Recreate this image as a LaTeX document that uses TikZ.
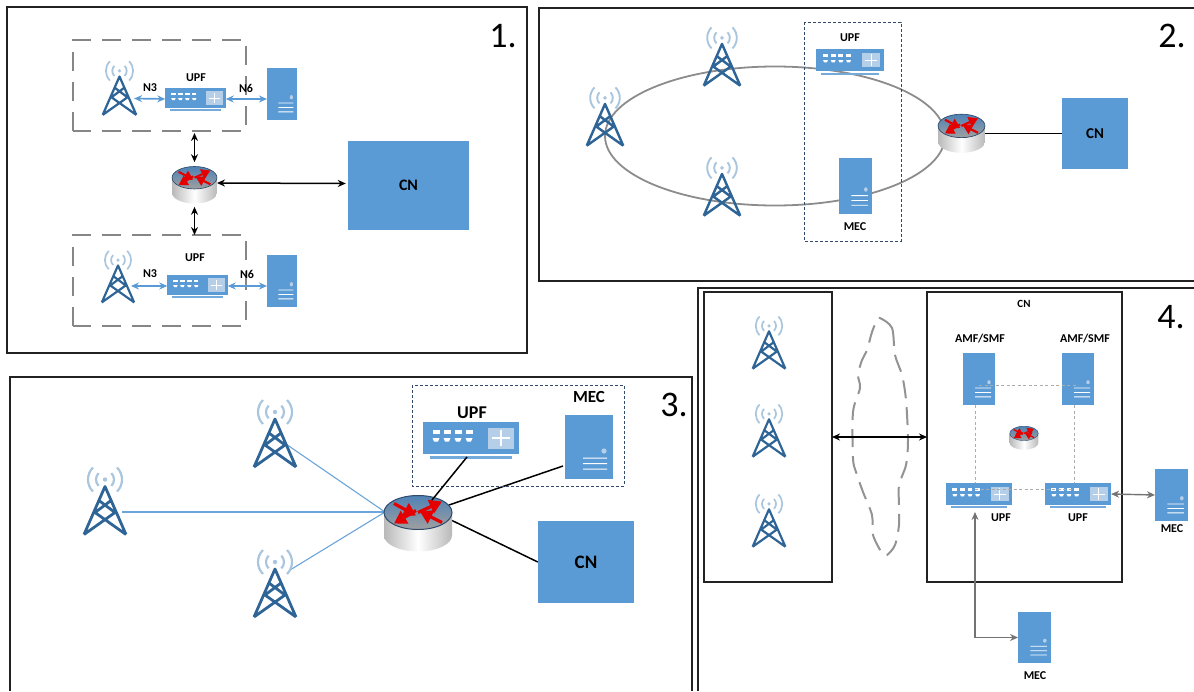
\documentclass[tikz,border=0pt]{standalone}
\usepackage{fontspec}
\setmainfont{Carlito}
\usetikzlibrary{arrows.meta,shapes.geometric,calc}
\pgfdeclarelayer{bg}
\pgfsetlayers{bg,main}
\definecolor{iconblue}{HTML}{5B9BD5}
\definecolor{towerblue}{HTML}{2E6496}
\definecolor{wave}{HTML}{A9C6DE}
\definecolor{lightsq}{HTML}{B5CFE8}
\definecolor{navy}{HTML}{2F4A6B}
\definecolor{panelline}{HTML}{222222}
\tikzset{
  iconbox/.style={inner sep=0pt,outer sep=0pt,draw=none,fill=none},
  panel/.style={draw=panelline,line width=2pt},
  graydash/.style={draw=gray!95,line width=2.6pt,dash pattern=on 19pt off 11pt},
  bluedot/.style={draw=navy,line width=.9pt,dash pattern=on 3pt off 2pt},
  cnbox/.style={draw=none,fill=iconblue,inner sep=0pt,font=\bfseries},
  lab/.style={font=\bfseries,text=black,inner sep=0pt},
  num/.style={font=\fontsize{36}{36}\selectfont,text=black,inner sep=0pt},
  blackarrow/.style={draw=black,line width=1.5pt,{Stealth[length=8pt,width=7pt]}-{Stealth[length=8pt,width=7pt]}},
  bluearrow/.style={draw=iconblue,line width=1.7pt,{Stealth[length=8pt,width=7pt]}-{Stealth[length=8pt,width=7pt]}},
  grayarrow/.style={draw=gray!90!black,line width=1.4pt,{Stealth[length=8pt,width=7pt]}-{Stealth[length=8pt,width=7pt]}},
  blackline/.style={draw=black,line width=1.5pt},
  towerlink/.style={draw=iconblue!90,line width=1.1pt},
  mesh/.style={draw=gray!65,line width=1pt,dash pattern=on 3pt off 2.5pt},
}
% tower: name, cx, cy, scale
\newcommand\towerI[4]{%
  \node[iconbox,minimum width=#4*44pt,minimum height=#4*69pt] (#1) at (#2,#3) {};
  \begin{scope}[shift={(#2,#3)},scale=#4]
    \draw[towerblue,line width=#4*2.8pt,line join=round]
      (-21,33) -- (0,-15) -- (21,33)
      (-21,33) -- (10,11) -- (-6,-1)
      (21,33) -- (-10,11) -- (6,-1);
    \fill[wave] (0,-22) circle (2.2);
    \draw[wave,line width=#4*2.2pt]
      (0,-22) ++(135:9) arc[start angle=135,end angle=225,radius=9]
      (0,-22) ++(45:9) arc[start angle=45,end angle=-45,radius=9]
      (0,-22) ++(135:17) arc[start angle=135,end angle=225,radius=17]
      (0,-22) ++(45:17) arc[start angle=45,end angle=-45,radius=17];
  \end{scope}}
% upf: name, cx, cy, scale
\newcommand\upfI[4]{%
  \node[iconbox,minimum width=#4*96pt,minimum height=#4*32pt] (#1) at (#2,#3) {};
  \begin{scope}[shift={(#2,#3)},scale=#4]
    \fill[iconblue] (-48,-16) rectangle (48,16);
    \fill[iconblue!85] (-41,18) rectangle (41,21);
    \foreach \px in {-35,-24,-13,-2}{
      \fill[white] (\px-3.5,-8) rectangle (\px+3.5,-4.5);
      \fill[white] (\px-3.5,0) -- (\px+3.5,0) -- (\px+2,3.5) -- (\px-2,3.5) -- cycle;
    }
    \fill[lightsq] (17,-10.5) rectangle (43,10.5);
    \draw[white,line width=#4*1.2pt] (21,0) -- (39,0) (30,-8) -- (30,8);
  \end{scope}}
% server: name, cx, cy, width, height
\newcommand\srvI[5]{%
  \node[iconbox,minimum width=#4 pt,minimum height=#5 pt] (#1) at (#2,#3) {};
  \begin{scope}[shift={(#2,#3)},xscale=#4/48,yscale=#5/64]
    \fill[iconblue] (-24,-32) rectangle (24,32);
    \fill[lightsq] (15,4) circle (2.6);
    \fill[white] (-6,10.5) rectangle (18,11.5) (-6,16) rectangle (18,17) (-6,21.5) rectangle (18,22.5);
  \end{scope}}
% router: name, cx, cy, scale
\newcommand\rtrI[4]{%
  \node[iconbox,minimum width=#4*68pt,minimum height=#4*57pt] (#1) at (#2,#3) {};
  \begin{scope}[shift={(#2,#3)},scale=#4]
    \shade[left color=gray!55,right color=gray!55,middle color=white]
      (-34,-11) -- (-34,12) arc[start angle=180,end angle=0,x radius=34,y radius=16] -- (34,-11) -- cycle;
    \shade[top color=iconblue!70!navy,bottom color=gray!75,draw=navy,line width=#4*1pt]
      (0,-11) ellipse[x radius=34,y radius=17];
    \begin{scope}[line width=#4*3.2pt,red!90!black,arrows={-{Triangle[]}}]
      \draw (-24,-20) -- (-2,-8);
      \draw (24,-1) -- (2,-12);
      \draw (0,-11) -- (24,-22);
      \draw (-2,-13) -- (-24,0);
    \end{scope}
  \end{scope}}
\begin{document}
\begin{tikzpicture}[x=1pt,y=-1pt]
\useasboundingbox (0,0) rectangle (1194,691);
% panels
\draw[panel] (7,7) rectangle (527,353);
\draw[panel] (1194,8) -- (539,8) -- (539,281) -- (1194,281);
\draw[panel] (10,691) -- (10,377) -- (692,377) -- (692,691);
\draw[panel] (698,691) -- (698,288) -- (1194,288);
\draw[panel] (704,292) rectangle (832,582);
\draw[panel] (927,292) rectangle (1122,582);
\node[iconbox,minimum width=128pt,minimum height=290pt] (leftbox) at (768,437) {};
\node[iconbox,minimum width=195pt,minimum height=290pt] (rightbox) at (1024.5,437) {};
% numbers
\node[num] at (503,36) {1.};
\node[num] at (1172,36) {2.};
\node[num] at (674,405) {3.};
\node[num] at (1171,317) {4.};
% ---- panel 1
\draw[graydash] (73,131) -- (73,40) -- (246,40) -- (246,131) -- cycle;
\draw[graydash] (73,326) -- (73,235) -- (246,235) -- (246,326) -- cycle;
\towerI{t1a}{119.5}{88.5}{.8}
\upfI{u1a}{195.5}{98}{.63}
\srvI{s1a}{282}{94}{30}{52}
\towerI{t1b}{118}{277}{.77}
\upfI{u1b}{197.5}{285}{.63}
\srvI{s1b}{282}{281}{30}{52}
\rtrI{r1}{194.5}{185}{.66}
\node[cnbox,minimum width=121pt,minimum height=89pt,font=\bfseries\fontsize{16}{16}\selectfont] (cn1) at (408.5,185.5) {CN};
\node[iconbox,minimum width=173pt,minimum height=91pt] (b1a) at (159.5,85.5) {};
\node[iconbox,minimum width=173pt,minimum height=91pt] (b1b) at (159.5,280.5) {};
\draw[bluearrow] ([shift={(-3,10)}]t1a.east) -- ([shift={(0,1)}]u1a.west);
\draw[bluearrow] ([shift={(0,1)}]u1a.east) -- ([shift={(0,5)}]s1a.west);
\draw[bluearrow] ([shift={(-4,9)}]t1b.east) -- ([shift={(0,1)}]u1b.west);
\draw[bluearrow] ([shift={(0,1)}]u1b.east) -- ([shift={(0,5)}]s1b.west);
\draw[blackarrow] ([shift={(35,2)}]b1a.south) -- ([shift={(0,-4)}]r1.north);
\draw[blackarrow] ([shift={(0,3)}]r1.south) -- ([shift={(35,0)}]b1b.north);
\draw[blackarrow] ([shift={(0,-2)}]r1.east) -- ([shift={(-2,-2)}]cn1.west);
\node[lab,font=\bfseries\fontsize{12}{12}\selectfont] at (150,88) {N3};
\node[lab,font=\bfseries\fontsize{12}{12}\selectfont] at (196,78) {UPF};
\node[lab,font=\bfseries\fontsize{12}{12}\selectfont] at (246,88) {N6};
\node[lab,font=\bfseries\fontsize{12}{12}\selectfont] at (150,274) {N3};
\node[lab,font=\bfseries\fontsize{12}{12}\selectfont] at (195,258) {UPF};
\node[lab,font=\bfseries\fontsize{12}{12}\selectfont] at (247,274) {N6};
% ---- panel 2
\node[iconbox,draw=gray!90,line width=1.8pt,ellipse,minimum width=340pt,minimum height=139pt] (ring2) at (775,136) {};
\draw[bluedot] (804,22) rectangle (901,241);
\towerI{t2a}{722}{57}{.87}
\towerI{t2b}{605}{117}{.87}
\towerI{t2c}{722}{187}{.87}
\upfI{u2}{850}{60}{.7}
\srvI{s2}{855.5}{186}{33}{56}
\rtrI{r2}{961.5}{133.5}{.69}
\node[cnbox,minimum width=66pt,minimum height=71pt,font=\bfseries\fontsize{15}{15}\selectfont] (cn2) at (1095,133.5) {CN};
\begin{pgfonlayer}{bg}
\draw[blackline] (r2.east) -- (cn2.west);
\end{pgfonlayer}
\node[lab,font=\bfseries\fontsize{12}{12}\selectfont] at (850,38) {UPF};
\node[lab,font=\bfseries\fontsize{12}{12}\selectfont] at (855,227) {MEC};
% ---- panel 3
\draw[bluedot] (412,385) rectangle (624,486);
\towerI{t3a}{275}{434}{1}
\towerI{t3b}{105}{501.5}{1}
\towerI{t3c}{275}{584}{1}
\upfI{u3}{471}{438}{1}
\srvI{s3}{589}{447}{48}{64}
\rtrI{r3}{418}{523.5}{1}
\node[cnbox,minimum width=96pt,minimum height=82pt,font=\bfseries\fontsize{19}{19}\selectfont] (cn3) at (586,562) {CN};
\begin{pgfonlayer}{bg}
\draw[towerlink] ([shift={(-14,8)}]t3a.east) -- ([shift={(1,-11.5)}]r3.west);
\draw[towerlink] ([shift={(-5,10.5)}]t3b.east) -- ([shift={(1,-11.5)}]r3.west);
\draw[towerlink] ([shift={(-7,-14)}]t3c.east) -- ([shift={(1,-11.5)}]r3.west);
\draw[blackline] ([shift={(-2,19)}]s3.west) -- ([shift={(-3,-18.5)}]r3.east);
\draw[blackline] ([shift={(0,-3)}]r3.east) -- (cn3.west);
\end{pgfonlayer}
\draw[blackline] ([shift={(-4,3)}]u3.south) -- ([shift={(14,5)}]r3.north);
\node[lab,font=\bfseries\fontsize{18}{18}\selectfont] at (472,413) {UPF};
\node[lab,font=\bfseries\fontsize{17}{17}\selectfont] at (589,397) {MEC};
% ---- panel 4
\draw[gray!85,line width=2pt,dash pattern=on 18pt off 9pt] plot[smooth cycle,tension=.5] coordinates
  {(880,318) (892,328) (895,355) (902,375) (906,400) (908,440) (906,465) (899,485) (899,505) (899,525) (895,545) (887,555) (882,553) (873,535) (872,515) (863,492) (856,472) (853,458) (853,412) (860,388) (858,375) (862,360) (867,350) (872,332) (877,320)};
\towerI{t4a}{769}{343}{.78}
\towerI{t4b}{769}{431}{.78}
\towerI{t4c}{769}{521}{.78}
\srvI{a4a}{979}{379}{32}{52}
\srvI{a4b}{1078}{379}{32}{52}
\rtrI{r4}{1024}{438}{.42}
\upfI{u4a}{979}{494}{.69}
\upfI{u4b}{1078}{494}{.69}
\srvI{m4a}{1171.5}{495}{33}{52}
\srvI{m4b}{1034.5}{637.5}{33}{51}
\draw[blackarrow] (leftbox.east) -- (rightbox.west);
\draw[mesh] ([shift={(0,6)}]a4a.center) -- ([shift={(0,6)}]a4b.center);
\draw[mesh] ([shift={(-4,0)}]a4a.south) -- ([shift={(-4,0)}]u4a.north);
\draw[mesh] ([shift={(-4,0)}]a4b.south) -- ([shift={(-4,0)}]u4b.north);
\draw[mesh] ([shift={(-4,-5)}]u4a.center) -- ([shift={(-4,-5)}]u4b.center);
\draw[grayarrow] (u4b.east) -- (m4a.west);
\draw[grayarrow] (m4b.west) -| ([shift={(-4,18)}]u4a.center);
\node[lab,font=\bfseries\fontsize{11}{11}\selectfont] at (1024,304) {CN};
\node[lab,font=\bfseries\fontsize{12}{12}\selectfont] at (980,339) {AMF/SMF};
\node[lab,font=\bfseries\fontsize{12}{12}\selectfont] at (1085,339) {AMF/SMF};
\node[lab,font=\bfseries\fontsize{12}{12}\selectfont] at (1001,518) {UPF};
\node[lab,font=\bfseries\fontsize{12}{12}\selectfont] at (1078,518) {UPF};
\node[lab,font=\bfseries\fontsize{12}{12}\selectfont] at (1172,529) {MEC};
\node[lab,font=\bfseries\fontsize{12}{12}\selectfont] at (1035,676) {MEC};
\end{tikzpicture}
\end{document}
